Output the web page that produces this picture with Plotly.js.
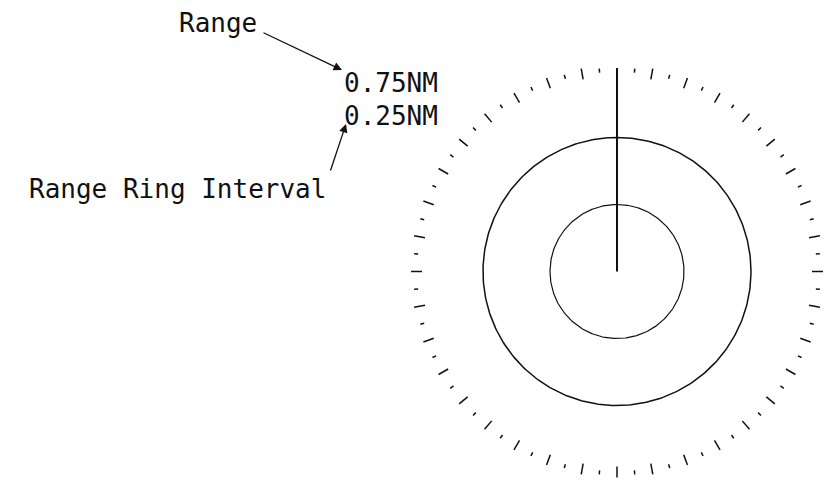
<!DOCTYPE html>
<html>
<head>
<meta charset="utf-8">
<script src="https://cdn.plot.ly/plotly-3.0.1.min.js"></script>
<style>html,body{margin:0;padding:0;background:#fff;}#chart{width:827px;height:484px;}</style>
</head>
<body>
<div id="chart"></div>
<script>
// ---- data ----
const rangeNM = 0.75;                 // displayed range
const ringIntervalNM = 0.25;          // range ring interval
const ringRadiiNM = [0.25, 0.5];      // range rings
const headingDeg = [0];               // heading line bearing
const bearingTickStepDeg = 5;         // bearing scale step
const majorTickEveryDeg = 10;         // longer tick every
const readoutLabels = ["0.75NM", "0.25NM"];
const calloutLabels = ["Range", "Range Ring Interval"];

// ---- geometry helpers ----
const W = 827, H = 484;
const cx = 617, cy = 271.5, pxPerNM = 268;
const toRad = d => d * Math.PI / 180;
function polarXY(rNM, bearingDeg) {
  return [rNM * Math.sin(toRad(bearingDeg)), rNM * Math.cos(toRad(bearingDeg))];
}

const traces = [];

// range rings
ringRadiiNM.forEach((r, i) => {
  const xs = [], ys = [];
  for (let a = 0; a <= 360; a += 1) { const p = polarXY(r, a); xs.push(p[0]); ys.push(p[1]); }
  traces.push({type: 'scatter', mode: 'lines', x: xs, y: ys, hoverinfo: 'skip',
    line: {color: '#111', width: i === 0 ? 1.2 : 1.5}});
});

// bearing scale ticks at the range circle
{
  const xs = [], ys = [];
  for (let a = 0; a < 360; a += bearingTickStepDeg) {
    if (headingDeg.includes(a)) continue;
    const major = (a % majorTickEveryDeg) === 0;
    const r0 = rangeNM * (major ? 0.97 : 0.993);
    const r1 = rangeNM * (major ? 1.025 : 1.013);
    const p0 = polarXY(r0, a), p1 = polarXY(r1, a);
    xs.push(p0[0], p1[0], null); ys.push(p0[1], p1[1], null);
  }
  traces.push({type: 'scatter', mode: 'lines', x: xs, y: ys, hoverinfo: 'skip',
    line: {color: '#111', width: 1.5}});
}

// heading line
headingDeg.forEach(h => {
  const p = polarXY(rangeNM * 1.013, h);
  traces.push({type: 'scatter', mode: 'lines', x: [0, p[0]], y: [0, p[1]], hoverinfo: 'skip',
    line: {color: '#111', width: 2}});
});

const px = x => x / W, py = y => 1 - y / H;
const font = {family: 'DejaVu Sans Mono, Liberation Mono, monospace', size: 26, color: '#111'};

const annotations = [
  {text: calloutLabels[0], x: px(177), y: py(23), xanchor: 'left', yanchor: 'middle'},
  {text: readoutLabels[0], x: px(342), y: py(83), xanchor: 'left', yanchor: 'middle'},
  {text: readoutLabels[1], x: px(342), y: py(116), xanchor: 'left', yanchor: 'middle'},
  {text: calloutLabels[1], x: px(27), y: py(189), xanchor: 'left', yanchor: 'middle'},
].map(a => Object.assign({xref: 'paper', yref: 'paper', showarrow: false, font: font}, a));

annotations.push(
  {text: '', xref: 'paper', yref: 'paper', x: px(342), y: py(70), ax: -80, ay: -38,
   showarrow: true, arrowhead: 2, arrowsize: 1.3, arrowwidth: 1.3, arrowcolor: '#111'},
  {text: '', xref: 'paper', yref: 'paper', x: px(346), y: py(124), ax: -16, ay: 48,
   showarrow: true, arrowhead: 2, arrowsize: 1.3, arrowwidth: 1.3, arrowcolor: '#111'}
);

const layout = {
  width: W, height: H,
  margin: {l: 0, r: 0, t: 0, b: 0},
  paper_bgcolor: '#fff', plot_bgcolor: '#fff',
  showlegend: false,
  xaxis: {range: [-cx / pxPerNM, (W - cx) / pxPerNM], visible: false, fixedrange: true},
  yaxis: {range: [-(H - cy) / pxPerNM, cy / pxPerNM], visible: false, fixedrange: true},
  annotations: annotations
};

Plotly.newPlot('chart', traces, layout, {staticPlot: true, displayModeBar: false});
</script>
</body>
</html>
